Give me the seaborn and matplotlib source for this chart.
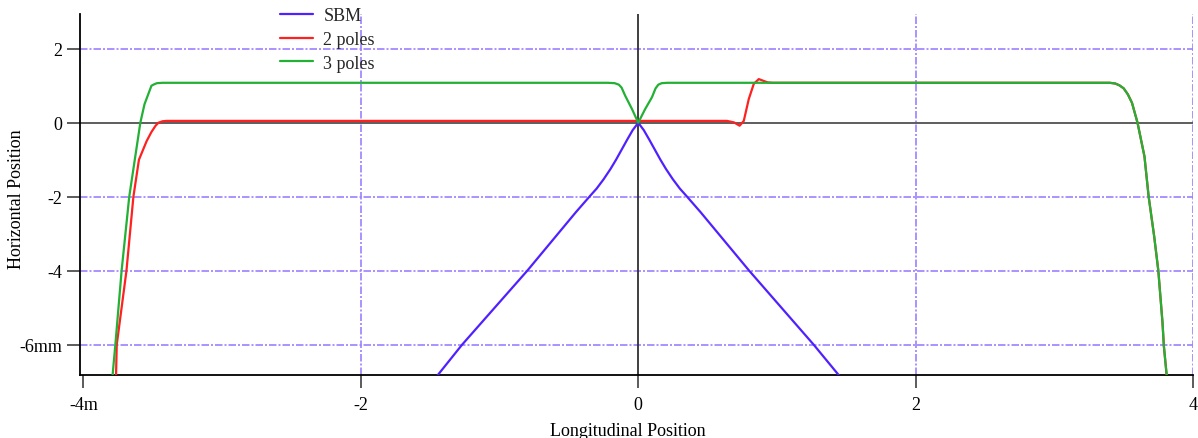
import matplotlib
matplotlib.use("Agg")
import matplotlib.pyplot as plt
import seaborn as sns
import pandas as pd

# Beam position traces: longitudinal position (m) vs horizontal offset (mm)
sbm_x = [-1.445, -1.27, -0.80, -0.45, -0.35, -0.30, -0.25, -0.20, -0.16,
         -0.12, -0.08, -0.04, 0.0,
         0.04, 0.08, 0.12, 0.16, 0.20, 0.25, 0.30, 0.35, 0.45, 0.80, 1.265, 1.445]
sbm_y = [-6.82, -6.0, -4.0, -2.42, -1.99, -1.78, -1.53, -1.25, -1.0,
         -0.73, -0.46, -0.2, 0.0,
         -0.2, -0.46, -0.73, -1.0, -1.25, -1.53, -1.78, -1.99, -2.42, -4.0, -6.0, -6.82]

two_x = [-3.765, -3.76, -3.69, -3.64, -3.60, -3.545, -3.51, -3.48, -3.46,
         -3.43, -3.40,
         0.64, 0.69, 0.731, 0.761, 0.797, 0.833, 0.869, 0.905, 0.934, 0.97,
         3.40, 3.44, 3.47, 3.50, 3.53, 3.56, 3.60, 3.65, 3.68, 3.72, 3.75,
         3.78, 3.79, 3.81]
two_y = [-6.82, -6.0, -4.0, -2.0, -1.0, -0.5, -0.25, -0.08, 0.0,
         0.04, 0.05,
         0.05, 0.01, -0.08, 0.05, 0.64, 1.05, 1.18, 1.13, 1.09, 1.08,
         1.08, 1.06, 1.01, 0.93, 0.77, 0.54, 0.0, -0.91, -1.99, -3.07, -4.0,
         -5.4, -6.04, -6.82]

three_x = [-3.79, -3.77, -3.725, -3.67, -3.59, -3.56, -3.51, -3.49, -3.47,
           -3.43,
           -0.22, -0.17, -0.14, -0.12, -0.094, -0.045, 0.0,
           0.05, 0.099, 0.125, 0.145, 0.17, 0.21,
           3.40, 3.44, 3.47, 3.50, 3.53, 3.56, 3.60, 3.65, 3.68, 3.72, 3.75,
           3.78, 3.79, 3.81]
three_y = [-6.82, -6.0, -4.0, -2.0, 0.0, 0.5, 1.0, 1.04, 1.07,
           1.08,
           1.08, 1.07, 1.03, 0.95, 0.73, 0.37, 0.0,
           0.37, 0.69, 0.93, 1.03, 1.07, 1.08,
           1.08, 1.06, 1.01, 0.93, 0.77, 0.54, 0.0, -0.91, -1.99, -3.07, -4.0,
           -5.4, -6.04, -6.82]

x_ticks = [-4, -2, 0, 2, 4]
x_tick_labels = ["-4m", "-2", "0", "2", "4"]
y_ticks = [2, 0, -2, -4, -6]
y_tick_labels = ["2", "0", "-2", "-4", "-6mm"]

series = [
    ("SBM", sbm_x, sbm_y, "#5020ff"),
    ("2 poles", two_x, two_y, "#ff2020"),
    ("3 poles", three_x, three_y, "#22b035"),
]

sns.set_style("white")
plt.rcParams["font.family"] = ["Liberation Serif", "DejaVu Serif"]

fig = plt.figure(figsize=(11.98, 4.39), dpi=100)
ax = fig.add_axes([80 / 1198, 1 - 376 / 439, (1193 - 80) / 1198, (376 - 15) / 439])

grid_color = "#9d80ff"
dash = (0, (4.5, 1.2, 1.2, 1.2))
for gx in [-2, 2, 4]:
    ax.axvline(gx, color=grid_color, lw=1.2, ls=dash, zorder=1)
for gy in [2, -2, -4, -6]:
    ax.axhline(gy, color=grid_color, lw=1.2, ls=dash, zorder=1)
ax.axhline(0, color="#505050", lw=1.3, zorder=2)
ax.axvline(0, color="#303030", lw=1.3, zorder=2)

for name, xs, ys, col in series:
    df = pd.DataFrame({"x": xs, "y": ys})
    sns.lineplot(data=df, x="x", y="y", sort=False, estimator=None,
                 color=col, lw=1.6, label=name, ax=ax, zorder=3)

ax.set_xlim(-4.025, 4.0)
ax.set_ylim(-6.82, 2.94)
ax.set_xticks(x_ticks)
ax.set_xticklabels(x_tick_labels)
ax.set_yticks(y_ticks)
ax.set_yticklabels(y_tick_labels)

for side in ["top", "right"]:
    ax.spines[side].set_visible(False)
for side in ["left", "bottom"]:
    ax.spines[side].set_color("black")
    ax.spines[side].set_linewidth(1.3)

ax.tick_params(axis="both", direction="out", length=9.2, width=1.2,
               color="#404040", labelsize=13, labelcolor="black")
ax.tick_params(axis="x", pad=6, bottom=True)
ax.tick_params(axis="y", pad=3.5, left=True)

ax.set_xlabel("Longitudinal Position", fontsize=13, color="black")
ax.set_ylabel("Horizontal Position", fontsize=13, color="black")
ax.xaxis.set_label_coords(0.492, -0.13)
ax.yaxis.set_label_coords(-0.049, 0.49)

ax.legend(loc="upper left", bbox_to_anchor=(280 / 1198, 1 - 8 / 439),
          bbox_transform=fig.transFigure, frameon=False, fontsize=13,
          handlelength=1.85, handletextpad=0.55, labelspacing=0.38,
          borderpad=0, borderaxespad=0)

fig.savefig("out.png", dpi=100)
